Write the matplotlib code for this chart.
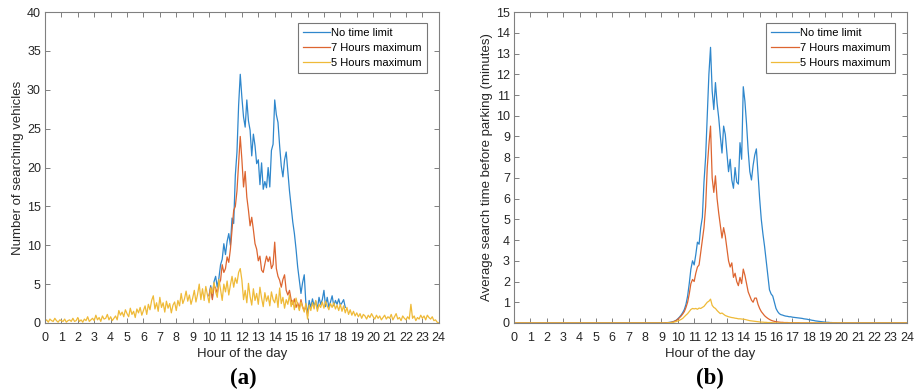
"""Searching vehicles and search time over the day, for three parking time limits.

Two panels side by side, (a) number of searching vehicles and (b) average
search time before parking, drawn in a MATLAB-like style.
"""
import matplotlib.pyplot as plt
import numpy as np

plt.rcParams["font.family"] = ["Liberation Sans", "DejaVu Sans"]

SERIES = ["No time limit", "7 Hours maximum", "5 Hours maximum"]
COLORS = ["#2f87cc", "#dd6530", "#efba38"]

# ---- panel (a): number of searching vehicles, sampled every 0.1 h ----
hours_a_full = np.round(np.arange(0, 24.01, 0.1), 1)
yellow_a = [
    0.2, 0.4, 0.1, 0.5, 0.3, 0.2, 0.6, 0.3, 0.1, 0.4,
    0.3, 0.2, 0.5, 0.1, 0.3, 0.4, 0.2, 0.6, 0.2, 0.3,
    0.7, 0.2, 0.4, 0.1, 0.5, 0.3, 0.8, 0.2, 0.4, 0.6,
    0.3, 1.0, 0.4, 0.7, 0.2, 0.9, 0.5, 0.6, 1.1, 0.4,
    0.8, 0.3, 0.6, 0.9, 0.4, 1.6, 1.0, 1.4, 0.8, 1.7,
    1.2, 0.8, 1.9, 1.1, 1.5, 0.7, 1.8, 1.3, 2.0, 1.0,
    1.6, 2.2, 1.1, 2.4, 1.7, 2.9, 3.5, 1.8, 2.6, 1.5,
    3.3, 2.0, 2.6, 1.4, 2.8, 1.9, 2.5, 1.3, 2.3, 2.7,
    1.6, 2.9, 2.2, 3.8, 2.5, 3.1, 4.1, 2.8, 3.6, 2.4,
    3.2, 4.2, 2.7, 3.7, 5.0, 3.0, 4.4, 2.9, 4.7, 3.6,
    2.6, 4.5, 3.8, 5.2, 4.0, 3.3, 5.6, 4.3, 2.9, 5.0,
    4.0, 5.4, 3.6, 4.9, 6.0, 4.6, 5.8, 5.1, 6.5, 7.0,
    5.5, 3.0, 4.2, 2.6, 5.1, 3.4, 2.3, 4.4, 2.9, 3.8,
    2.4, 4.6, 3.2, 2.1, 3.9, 2.8, 3.5, 2.2, 4.0, 3.0,
    2.6, 3.7, 2.0, 4.5, 2.5, 3.3, 1.9, 3.0, 2.4, 3.6,
    2.1, 2.9, 1.7, 3.2, 2.3, 1.6, 2.7, 2.0, 1.4, 2.5,
    0.5, 2.3, 1.6, 2.6, 1.8, 2.9, 1.5, 2.4, 2.0, 2.7,
    1.9, 2.8, 2.2, 1.7, 2.5, 2.0, 2.6, 1.8, 2.3, 1.6,
    2.4, 1.5, 2.2, 1.3, 2.0, 1.1, 1.7, 1.0, 1.5, 0.9,
    1.3, 0.8, 1.2, 0.6, 1.1, 0.9, 0.5, 1.0, 0.7, 1.2,
    0.8, 0.5, 1.0, 0.6, 0.9, 0.4, 0.7, 1.0, 0.5, 0.8,
    0.6, 1.1, 0.4, 0.8, 1.2, 0.5, 0.7, 0.3, 0.9, 0.6,
    0.4, 0.8, 0.5, 2.4, 0.6, 0.9, 0.3, 0.7, 0.5, 1.0,
    0.6, 0.9, 0.4, 1.0, 0.7, 0.5, 0.8, 0.3, 0.4, 0.1,
    0.0,
]
# blue and orange only leave the yellow curve between about 10h and 18h
hours_blue_a = np.round(np.arange(10, 18.31, 0.1), 1)
blue_a = [
    3.5, 4.8, 3.2, 5.3, 6.0, 4.6, 5.8, 7.5, 8.2, 10.2,
    8.8, 10.5, 11.5, 10.0, 13.5, 12.8, 19.0, 22.0, 28.0, 32.0,
    29.0, 26.5, 25.2, 28.7, 26.0, 24.8, 21.5, 24.3, 22.8, 20.5,
    21.0, 17.8, 20.6, 17.2, 18.2, 17.4, 20.0, 17.5, 22.2, 23.0,
    28.7, 26.8, 25.8, 22.8, 20.2, 18.8, 21.0, 22.0, 19.5, 17.0,
    15.0, 13.0, 11.5, 9.5, 7.2, 5.5, 3.8, 5.2, 6.2, 2.5,
    1.2, 2.9, 2.0, 3.1, 2.2, 2.8, 1.8, 3.3, 2.4, 3.0,
    4.2, 2.1, 3.3, 2.0, 2.7, 3.5, 2.2, 2.9, 2.4, 3.1,
    2.3, 2.6, 3.0, 2.0,
]
hours_orange_a = np.round(np.arange(10, 16.01, 0.1), 1)
orange_a = [
    3.5, 4.6, 3.0, 4.8, 4.5, 3.8, 5.0, 5.5, 7.5, 6.5,
    7.0, 8.5, 7.8, 9.5, 12.0, 14.5, 15.0, 17.0, 20.5, 24.0,
    21.0, 17.5, 19.5, 16.2, 14.5, 12.5, 13.6, 12.0, 10.2, 9.5,
    8.0, 8.6, 6.8, 6.5, 7.6, 8.6, 7.9, 8.5, 7.0, 7.5,
    10.4, 7.0, 6.0, 5.5, 4.6, 5.6, 6.2, 4.2, 3.6, 4.2,
    3.0, 2.4, 3.1, 2.0, 2.6, 1.9, 3.0, 2.1, 1.6, 2.2,
    1.0,
]

# ---- panel (b): average search time (minutes), zero outside 9h-20h ----
hours_b = [0.0] + list(np.round(np.arange(9, 20.01, 0.1), 1)) + [24.0]
blue_b = [0.0] + [
    0, 0, 0.01, 0.01, 0.02, 0.03, 0.04, 0.06, 0.09, 0.13,
    0.2, 0.28, 0.38, 0.5, 0.65, 0.9, 1.3, 1.9, 2.6, 3.0,
    2.8, 3.3, 3.9, 3.8, 4.6, 5.1, 6.8, 8.0, 10.0, 12.0,
    13.3, 11.2, 10.3, 11.6, 10.6, 9.9, 9.0, 8.2, 9.5, 9.1,
    8.2, 7.3, 7.9, 6.9, 6.5, 7.5, 6.8, 6.7, 8.7, 7.9,
    11.4, 10.7, 9.6, 8.3, 7.3, 6.9, 7.6, 8.1, 8.4, 7.2,
    6.0, 5.0, 4.3, 3.7, 3.0, 2.3, 1.6, 1.4, 1.3, 1.0,
    0.7, 0.55, 0.45, 0.4, 0.38, 0.35, 0.33, 0.32, 0.3, 0.3,
    0.28, 0.27, 0.26, 0.25, 0.24, 0.23, 0.22, 0.2, 0.19, 0.18,
    0.16, 0.15, 0.13, 0.12, 0.1, 0.09, 0.08, 0.07, 0.06, 0.05,
    0.04, 0.03, 0.03, 0.02, 0.02, 0.01, 0.01, 0.01, 0, 0,
    0,
] + [0.0]
orange_b = [0.0] + [
    0, 0, 0, 0.01, 0.01, 0.02, 0.03, 0.05, 0.08, 0.12,
    0.18, 0.25, 0.33, 0.43, 0.55, 0.75, 1.0, 1.4, 1.9, 2.1,
    2.0, 2.4, 2.7, 2.8, 3.4, 4.0, 4.6, 5.6, 7.5, 8.6,
    9.5, 7.0, 6.3, 7.1, 6.0, 5.3, 4.7, 4.1, 4.6, 4.2,
    3.6, 3.0, 2.7, 2.9, 2.2, 2.4, 2.0, 1.8, 2.2, 1.9,
    2.6, 2.3, 1.9, 1.5, 1.3, 1.1, 1.0, 1.2, 1.2, 0.9,
    0.7, 0.55, 0.45, 0.35, 0.28, 0.22, 0.17, 0.13, 0.1, 0.08,
    0.06, 0.05, 0.04, 0.03, 0.03, 0.02, 0.02, 0.02, 0.01, 0.01,
    0.01, 0.01, 0.01, 0.01, 0.01, 0, 0, 0, 0, 0,
    0, 0, 0, 0, 0, 0, 0, 0, 0, 0,
    0, 0, 0, 0, 0, 0, 0, 0, 0, 0,
    0,
] + [0.0]
yellow_b = [0.0] + [
    0, 0, 0, 0, 0.01, 0.01, 0.02, 0.03, 0.05, 0.07,
    0.1, 0.13, 0.17, 0.22, 0.3, 0.38, 0.45, 0.55, 0.65, 0.7,
    0.68, 0.7, 0.66, 0.72, 0.7, 0.75, 0.8, 0.9, 1.0, 1.05,
    1.15, 0.85, 0.75, 0.7, 0.6, 0.52, 0.45, 0.48, 0.42, 0.36,
    0.33, 0.3, 0.28, 0.26, 0.25, 0.23, 0.22, 0.2, 0.2, 0.19,
    0.18, 0.17, 0.15, 0.13, 0.11, 0.1, 0.09, 0.08, 0.07, 0.06,
    0.05, 0.04, 0.04, 0.03, 0.03, 0.02, 0.02, 0.02, 0.01, 0.01,
    0, 0, 0, 0, 0, 0, 0, 0, 0, 0,
    0, 0, 0, 0, 0, 0, 0, 0, 0, 0,
    0, 0, 0, 0, 0, 0, 0, 0, 0, 0,
    0, 0, 0, 0, 0, 0, 0, 0, 0, 0,
    0,
] + [0.0]

EDGE = "#808080"
TEXT = "#262626"


def style_axes(ax, ymax, ystep, ylabel):
    """MATLAB-ish box: inward ticks on all four sides, grey frame."""
    ax.set_xlim(0, 24)
    ax.set_ylim(0, ymax)
    ax.set_xticks(np.arange(0, 25, 1))
    ax.set_yticks(np.arange(0, ymax + 0.01, ystep))
    ax.tick_params(direction="in", top=True, right=True, length=3.5,
                   width=0.7, color=EDGE, labelcolor=TEXT, labelsize=9,
                   pad=3)
    ax.tick_params(axis="x", pad=6.5)
    for s in ax.spines.values():
        s.set_color(EDGE)
        s.set_linewidth(0.8)
    ax.set_xlabel("Hour of the day", fontsize=9.5, color=TEXT, labelpad=3)
    ax.set_ylabel(ylabel, fontsize=9.5, color=TEXT, labelpad=2)
    leg = ax.legend(loc="upper right", bbox_to_anchor=(0.97, 0.965),
                    fontsize=8, frameon=True, fancybox=False,
                    handlelength=2.5, handletextpad=0.1, borderpad=0.45,
                    labelspacing=0.45, borderaxespad=0)
    leg.get_frame().set_edgecolor("#555555")
    leg.get_frame().set_linewidth(0.8)


fig = plt.figure(figsize=(9.18, 3.91), dpi=100)
ax1 = fig.add_axes([0.049, 0.174, 0.429, 0.795])
ax2 = fig.add_axes([0.560, 0.174, 0.428, 0.795])

ax1.plot(hours_blue_a, blue_a, color=COLORS[0], lw=0.9, label=SERIES[0])
ax1.plot(hours_orange_a, orange_a, color=COLORS[1], lw=0.9, label=SERIES[1])
ax1.plot(hours_a_full, yellow_a, color=COLORS[2], lw=0.9, label=SERIES[2])
style_axes(ax1, 40, 5, "Number of searching vehicles")

ax2.plot(hours_b, blue_b, color=COLORS[0], lw=0.9, label=SERIES[0])
ax2.plot(hours_b, orange_b, color=COLORS[1], lw=0.9, label=SERIES[1])
ax2.plot(hours_b, yellow_b, color=COLORS[2], lw=0.9, label=SERIES[2])
style_axes(ax2, 15, 1, "Average search time before parking (minutes)")

# panel letters below each plot
for x, letter in [(0.265, "(a)"), (0.773, "(b)")]:
    fig.text(x, 0.032, letter, ha="center", va="center", fontsize=16.5,
             fontweight="bold", family=["Liberation Serif", "DejaVu Serif"])

fig.savefig("out.png", dpi=100)
